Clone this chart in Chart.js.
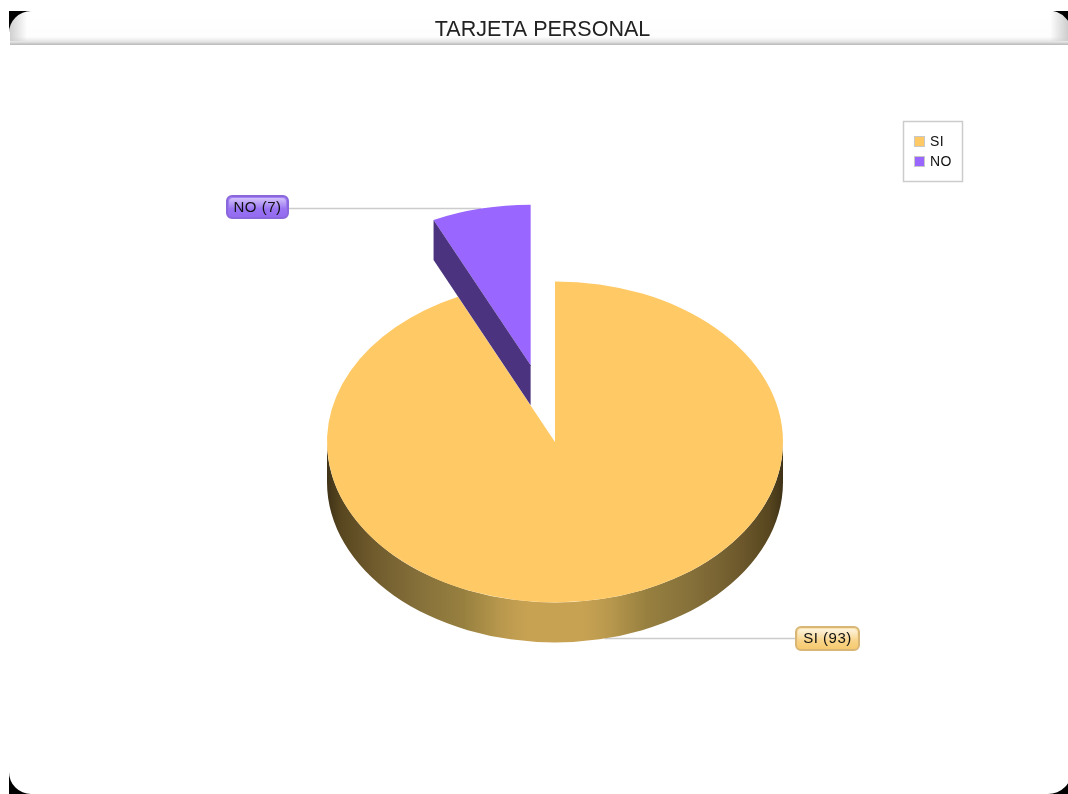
<!DOCTYPE html>
<html>
<head>
<meta charset="utf-8">
<title>TARJETA PERSONAL</title>
<style>
    html, body { margin: 0; padding: 0; background: #fff; }
    #chartBox { position: absolute; left: 0; top: 0; width: 1068px; height: 794px; }
</style>
</head>
<body>
<div id="chartBox"><canvas id="pieChart"></canvas></div>
<script src="https://cdn.jsdelivr.net/npm/chart.js@4/dist/chart.umd.min.js"></script>
<script>
const chartTitle = 'TARJETA PERSONAL';
const categories = ['SI', 'NO'];
const values = [93, 7];
const sliceColors = ['#FFCA66', '#9966FF'];

// pie geometry
const radiusX = 228;
const squash = 0.704;
const depth = 40;
const explodeNo = 111.6;

const FONT = '"Liberation Sans", Arial, sans-serif';

function midAngle(arc) {
    return (arc.startAngle + arc.endAngle) / 2;
}

function roundBox(ctx, x, y, w, h, r) {
    ctx.beginPath();
    ctx.roundRect(x, y, w, h, r);
}

// glossy value tag at the end of a leader line
function drawTag(ctx, x, y, w, h, text, border, top, bottom, shine) {
    roundBox(ctx, x + 1, y + 1, w - 2, h - 2, 5);
    const g = ctx.createLinearGradient(0, y, 0, y + h);
    g.addColorStop(0, top);
    g.addColorStop(1, bottom);
    ctx.fillStyle = g;
    ctx.fill();
    ctx.strokeStyle = border;
    ctx.lineWidth = 2;
    ctx.stroke();

    const s = ctx.createLinearGradient(0, y + 2, 0, y + h / 2 + 2);
    s.addColorStop(0, shine);
    s.addColorStop(1, 'rgba(255,255,255,0)');
    roundBox(ctx, x + 3, y + 3, w - 6, h / 2, 4);
    ctx.fillStyle = s;
    ctx.fill();

    ctx.fillStyle = '#111';
    ctx.font = '15px ' + FONT;
    ctx.letterSpacing = '0.5px';
    ctx.textAlign = 'center';
    ctx.textBaseline = 'middle';
    ctx.fillText(text, x + w / 2, y + h / 2 + 0.5);
    ctx.letterSpacing = '0px';
}

const framePlugin = {
    id: 'frame',
    // the title sits a little left of the pie centre
    afterLayout(chart) {
        chart.titleBlock.left -= 25;
    },
    beforeDraw(chart) {
        const ctx = chart.ctx;
        const L = 9, T = 11, R = 1068, B = 794;
        ctx.save();
        ctx.fillStyle = '#fff';
        ctx.fillRect(0, 0, chart.width, chart.height);

        // title strip shading
        const bar = ctx.createLinearGradient(0, T, 0, 46);
        bar.addColorStop(0, '#ffffff');
        bar.addColorStop(0.74, '#fdfdfd');
        bar.addColorStop(0.88, '#e4e4e4');
        bar.addColorStop(0.96, '#bcbcbc');
        bar.addColorStop(1, '#d8d8d8');
        ctx.fillStyle = bar;
        ctx.fillRect(L + 1, T, R - L - 1, 34);

        // soft grey at both ends of the strip
        const edgeL = ctx.createLinearGradient(L, 0, L + 18, 0);
        edgeL.addColorStop(0, 'rgba(205,205,205,1)');
        edgeL.addColorStop(1, 'rgba(205,205,205,0)');
        ctx.fillStyle = edgeL;
        ctx.fillRect(L + 1, T, 18, 30);
        const edgeR = ctx.createLinearGradient(R - 18, 0, R, 0);
        edgeR.addColorStop(0, 'rgba(205,205,205,0)');
        edgeR.addColorStop(1, 'rgba(205,205,205,1)');
        ctx.fillStyle = edgeR;
        ctx.fillRect(R - 18, T, 18, 30);

        // corner arcs: [corner x, corner y, arc centre x, arc centre y, radius]
        const corners = [
            [L, T, 31, 33, 22],
            [R, T, 1048, 35, 24.5],
            [L, B, 31, 772, 22],
            [R, B, 1048, 770, 24]
        ];
        ctx.fillStyle = '#000';
        corners.forEach(([x, y, cx, cy, r]) => {
            ctx.save();
            ctx.beginPath();
            ctx.rect(Math.min(x, cx), Math.min(y, cy), Math.abs(cx - x), Math.abs(cy - y));
            ctx.clip();
            ctx.beginPath();
            ctx.rect(Math.min(x, cx), Math.min(y, cy), Math.abs(cx - x), Math.abs(cy - y));
            ctx.arc(cx, cy, r, 0, Math.PI * 2);
            ctx.fill('evenodd');
            ctx.restore();
        });
        ctx.restore();
    }
};

const pie3dPlugin = {
    id: 'pie3d',
    // pull the NO slice away from the pie
    afterDatasetsUpdate(chart) {
        const arc = chart.getDatasetMeta(0).data[1];
        const m = midAngle(arc);
        arc.x += Math.cos(m) * explodeNo;
        arc.y += Math.sin(m) * explodeNo;
    },
    beforeDatasetsDraw(chart) {
        const ctx = chart.ctx;
        const [si, no] = chart.getDatasetMeta(0).data;
        const ry = si.outerRadius * squash;
        const apexY = si.y + (no.y - si.y) * squash;

        // leader lines run behind the slices
        const mSi = midAngle(si), mNo = midAngle(no);
        const noY = apexY + Math.sin(mNo) * ry;
        const noX = no.x + Math.cos(mNo) * no.outerRadius;
        const siY = si.y + Math.sin(mSi) * ry + depth;
        const siX = si.x + Math.cos(mSi) * si.outerRadius;
        ctx.save();
        ctx.strokeStyle = '#cccccc';
        ctx.lineWidth = 1.5;
        ctx.beginPath();
        ctx.moveTo(288, noY);
        ctx.lineTo(noX, noY);
        ctx.moveTo(siX, siY);
        ctx.lineTo(796, siY);
        ctx.stroke();

        // rim of the big slice
        const g = ctx.createLinearGradient(si.x - si.outerRadius, 0, si.x + si.outerRadius, 0);
        g.addColorStop(0, '#3f3217');
        g.addColorStop(0.03, '#57461f');
        g.addColorStop(0.1, '#6f5a2d');
        g.addColorStop(0.2, '#85703a');
        g.addColorStop(0.3, '#97803f');
        g.addColorStop(0.38, '#b8984d');
        g.addColorStop(0.44, '#c8a253');
        g.addColorStop(0.56, '#c8a253');
        g.addColorStop(0.62, '#b8984d');
        g.addColorStop(0.7, '#97803f');
        g.addColorStop(0.8, '#85703a');
        g.addColorStop(0.9, '#6f5a2d');
        g.addColorStop(0.97, '#57461f');
        g.addColorStop(1, '#3f3217');
        ctx.fillStyle = g;
        ctx.beginPath();
        ctx.ellipse(si.x, si.y + depth, si.outerRadius, ry, 0, 0, Math.PI);
        ctx.ellipse(si.x, si.y, si.outerRadius, ry, 0, Math.PI, 0, true);
        ctx.closePath();
        ctx.fill();
        ctx.restore();

        // flatten the slices into an ellipse
        ctx.save();
        ctx.translate(0, si.y);
        ctx.scale(1, squash);
        ctx.translate(0, -si.y);
    },
    afterDatasetsDraw(chart) {
        const ctx = chart.ctx;
        ctx.restore();

        const [si, no] = chart.getDatasetMeta(0).data;
        const apexY = si.y + (no.y - si.y) * squash;
        const ry = no.outerRadius * squash;
        const cornerX = no.x + Math.cos(no.startAngle) * no.outerRadius;
        const cornerY = apexY + Math.sin(no.startAngle) * ry;

        // cut face of the NO slice
        ctx.save();
        ctx.fillStyle = '#4b337f';
        ctx.beginPath();
        ctx.moveTo(no.x, apexY);
        ctx.lineTo(cornerX, cornerY);
        ctx.lineTo(cornerX, cornerY + depth);
        ctx.lineTo(no.x, apexY + depth);
        ctx.closePath();
        ctx.fill();
        ctx.restore();

        drawTag(ctx, 226, 195, 63, 24, categories[1] + ' (' + values[1] + ')', '#8a68dc', '#a583f5', '#9068f0', 'rgba(255,255,255,0.55)');
        drawTag(ctx, 795, 626, 65, 25, categories[0] + ' (' + values[0] + ')', '#d8b676', '#fbe6b8', '#f6c768', 'rgba(255,255,255,0.6)');

        // legend
        ctx.save();
        ctx.strokeStyle = '#cccccc';
        ctx.lineWidth = 1.5;
        ctx.strokeRect(903.5, 121.5, 59, 60);
        categories.forEach((name, i) => {
            const y = 136 + i * 20;
            ctx.fillStyle = sliceColors[i];
            ctx.fillRect(914, y, 10, 11);
            ctx.lineWidth = 1;
            ctx.strokeStyle = '#c8c8c8';
            ctx.strokeRect(914.5, y + 0.5, 10, 10);
            ctx.fillStyle = '#111';
            ctx.font = '14px ' + FONT;
            ctx.letterSpacing = '0.4px';
            ctx.textAlign = 'left';
            ctx.textBaseline = 'middle';
            ctx.fillText(name, 930, y + 6);
            ctx.letterSpacing = '0px';
        });
        ctx.restore();
    }
};

const pieCtx = document.getElementById('pieChart').getContext('2d');
const pieChart = new Chart(pieCtx, {
    type: 'pie',
    data: {
        labels: categories,
        datasets: [{
            data: values,
            backgroundColor: sliceColors,
            borderWidth: 0,
            hoverOffset: 0
        }]
    },
    options: {
        responsive: true,
        maintainAspectRatio: false,
        animation: false,
        radius: radiusX,
        layout: {
            // puts the chart area's middle on the pie centre
            padding: { left: 42, right: 0, top: 0, bottom: 0 }
        },
        plugins: {
            legend: { display: false },
            tooltip: { enabled: false },
            title: {
                display: true,
                text: chartTitle,
                color: '#222',
                font: { family: FONT, size: 21.5, weight: 'normal' },
                padding: { top: 17, bottom: 47 }
            }
        }
    },
    plugins: [framePlugin, pie3dPlugin]
});
</script>
</body>
</html>
